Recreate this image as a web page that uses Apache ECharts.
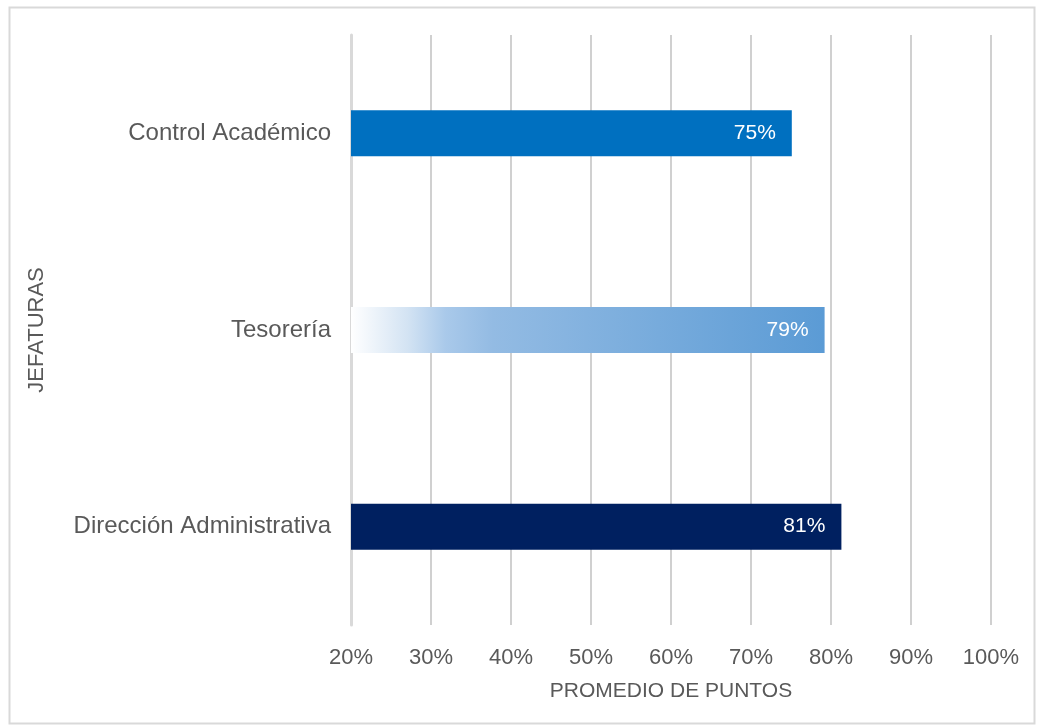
<!DOCTYPE html>
<html>
<head>
<meta charset="utf-8">
<script src="https://cdn.jsdelivr.net/npm/echarts@6/dist/echarts.min.js"></script>
<style>
  html, body { margin: 0; padding: 0; background: #fff; }
  #chart { width: 1039px; height: 728px; }
</style>
</head>
<body>
<div id="chart"></div>
<script>
// categorias de abajo hacia arriba
var categories = ['Dirección Administrativa', 'Tesorería', 'Control Académico'];
var values = [81.3, 79.2, 75.1];

var xMin = 20, xMax = 100, xStep = 10;

var chart = echarts.init(document.getElementById('chart'));

var barColors = [
    '#002060',
    new echarts.graphic.LinearGradient(0, 0, 1, 0, [
        {offset: 0, color: '#ffffff'},
        {offset: 0.12, color: '#d3e3f3'},
        {offset: 0.2, color: '#a9c9ea'},
        {offset: 0.3, color: '#93bbe3'},
        {offset: 1, color: '#5b9bd5'}
    ]),
    '#0070c0'
];

var option = {
    animation: false,
    graphic: [{
        type: 'rect',
        left: 7,
        top: 5,
        shape: {width: 1025, height: 716},
        style: {fill: 'none', stroke: '#d9d9d9', lineWidth: 2},
        silent: true
    }],
    grid: {
        left: 351,
        right: 48,
        top: 35,
        bottom: 103
    },
    xAxis: {
        type: 'value',
        min: xMin,
        max: xMax,
        interval: xStep,
        name: 'PROMEDIO DE PUNTOS',
        nameLocation: 'middle',
        nameGap: 56,
        nameTextStyle: {color: '#595959', fontSize: 21, fontFamily: 'Liberation Sans'},
        axisLine: {show: false},
        axisTick: {show: false},
        axisLabel: {
            formatter: '{value}%',
            color: '#595959',
            fontSize: 22,
            margin: 22,
            fontFamily: 'Liberation Sans'
        },
        splitLine: {lineStyle: {color: '#d0d0d0', width: 2}}
    },
    yAxis: {
        type: 'category',
        data: categories,
        name: 'JEFATURAS',
        nameLocation: 'middle',
        nameRotate: 90,
        nameGap: 303,
        nameTextStyle: {color: '#595959', fontSize: 22, fontFamily: 'Liberation Sans'},
        axisLine: {show: true, lineStyle: {color: '#d9d9d9', width: 3}},
        axisTick: {show: false},
        axisLabel: {
            color: '#595959',
            fontSize: 24,
            margin: 20,
            fontFamily: 'Liberation Sans'
        }
    },
    series: [{
        type: 'bar',
        barWidth: 46,
        data: values.map(function (v, i) {
            return {value: v, itemStyle: {color: barColors[i]}};
        }),
        label: {
            show: true,
            position: 'insideRight',
            distance: 16,
            color: '#ffffff',
            fontSize: 21,
            fontFamily: 'Liberation Sans',
            formatter: function (p) {
                return Math.round(p.value) + '%';
            }
        }
    }]
};

chart.setOption(option);
</script>
</body>
</html>
